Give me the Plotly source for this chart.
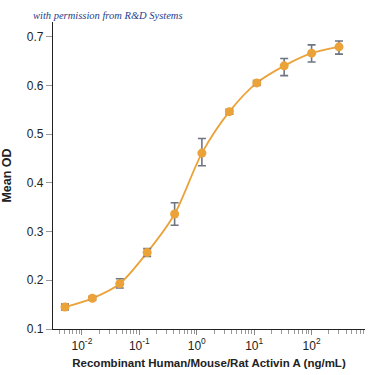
import numpy as np
import plotly.graph_objects as go

conc = [0.00508, 0.0152, 0.0457, 0.137, 0.412, 1.23, 3.70, 11.1, 33.3, 100, 300]
mean_od = [0.145, 0.163, 0.193, 0.257, 0.336, 0.461, 0.546, 0.605, 0.640, 0.666, 0.679]
err_plus = [0.006, 0.004, 0.010, 0.008, 0.023, 0.030, 0.005, 0.005, 0.015, 0.017, 0.012]
err_minus = [0.006, 0.004, 0.009, 0.008, 0.023, 0.026, 0.005, 0.005, 0.020, 0.018, 0.015]

decades = [0.01, 0.1, 1, 10, 100]
decade_labels = ["10<sup>-2</sup>", "10<sup>-1</sup>", "10<sup>0</sup>", "10<sup>1</sup>", "10<sup>2</sup>"]
y_ticks = [0.1, 0.2, 0.3, 0.4, 0.5, 0.6, 0.7]

minor_vals = []
for d in range(-3, 3):
    for m in range(2, 10):
        v = m * 10 ** d
        if 10 ** -2.5 <= v <= 10 ** 2.93:
            minor_vals.append(v)

font = "Liberation Sans, Arial, sans-serif"
orange = "#EBA238"

fig = go.Figure()
fig.add_trace(go.Scatter(
    x=conc, y=mean_od, mode="lines",
    line=dict(color=orange, width=1.8, shape="spline", smoothing=0.8),
    hoverinfo="skip", showlegend=False))
fig.add_trace(go.Scatter(
    x=conc, y=mean_od, mode="markers",
    marker=dict(color=orange, size=9),
    error_y=dict(type="data", array=err_plus, arrayminus=err_minus,
                 color="#6E7582", thickness=1.6, width=4),
    showlegend=False))

fig.update_layout(
    width=375, height=375,
    margin=dict(l=53, r=10, t=22, b=46),
    paper_bgcolor="white", plot_bgcolor="white",
    font=dict(family=font, size=12, color="#222222"),
    annotations=[dict(text="with permission from R&D Systems", xref="paper", yref="paper",
                      x=-0.072, y=1.02, xanchor="left", yanchor="middle", showarrow=False,
                      font=dict(family="Liberation Serif, Times New Roman, serif", size=10.5,
                                color="#1F3E8C", style="italic"))],
)
fig.update_xaxes(
    type="log", range=[-2.503, 2.93], automargin=False,
    tickmode="array", tickvals=decades, ticktext=decade_labels,
    ticks="outside", ticklen=5, tickcolor="#888888", tickwidth=1,
    minor=dict(tickmode="array", tickvals=minor_vals, ticks="outside", ticklen=4,
               tickcolor="#999999", tickwidth=1, showgrid=False),
    showline=True, linecolor="#222222", linewidth=1.2, showgrid=False, zeroline=False,
    tickfont=dict(size=12),
    title=dict(text="<b>Recombinant Human/Mouse/Rat Activin A (ng/mL)</b>",
               font=dict(size=11.5), standoff=7),
)
fig.update_yaxes(
    range=[0.1, 0.73], automargin=False,
    tickvals=y_ticks, ticktext=[f"{v:.1f}" for v in y_ticks],
    ticks="outside", ticklen=6, tickcolor="#999999", tickwidth=1,
    showline=True, linecolor="#222222", linewidth=1.2, showgrid=False, zeroline=False,
    tickfont=dict(size=12),
    title=dict(text="<b>Mean OD</b>", font=dict(size=12.5), standoff=17),
)
fig.write_html("out.html", config={"displayModeBar": False},
               post_script="document.body.style.margin='0';")
